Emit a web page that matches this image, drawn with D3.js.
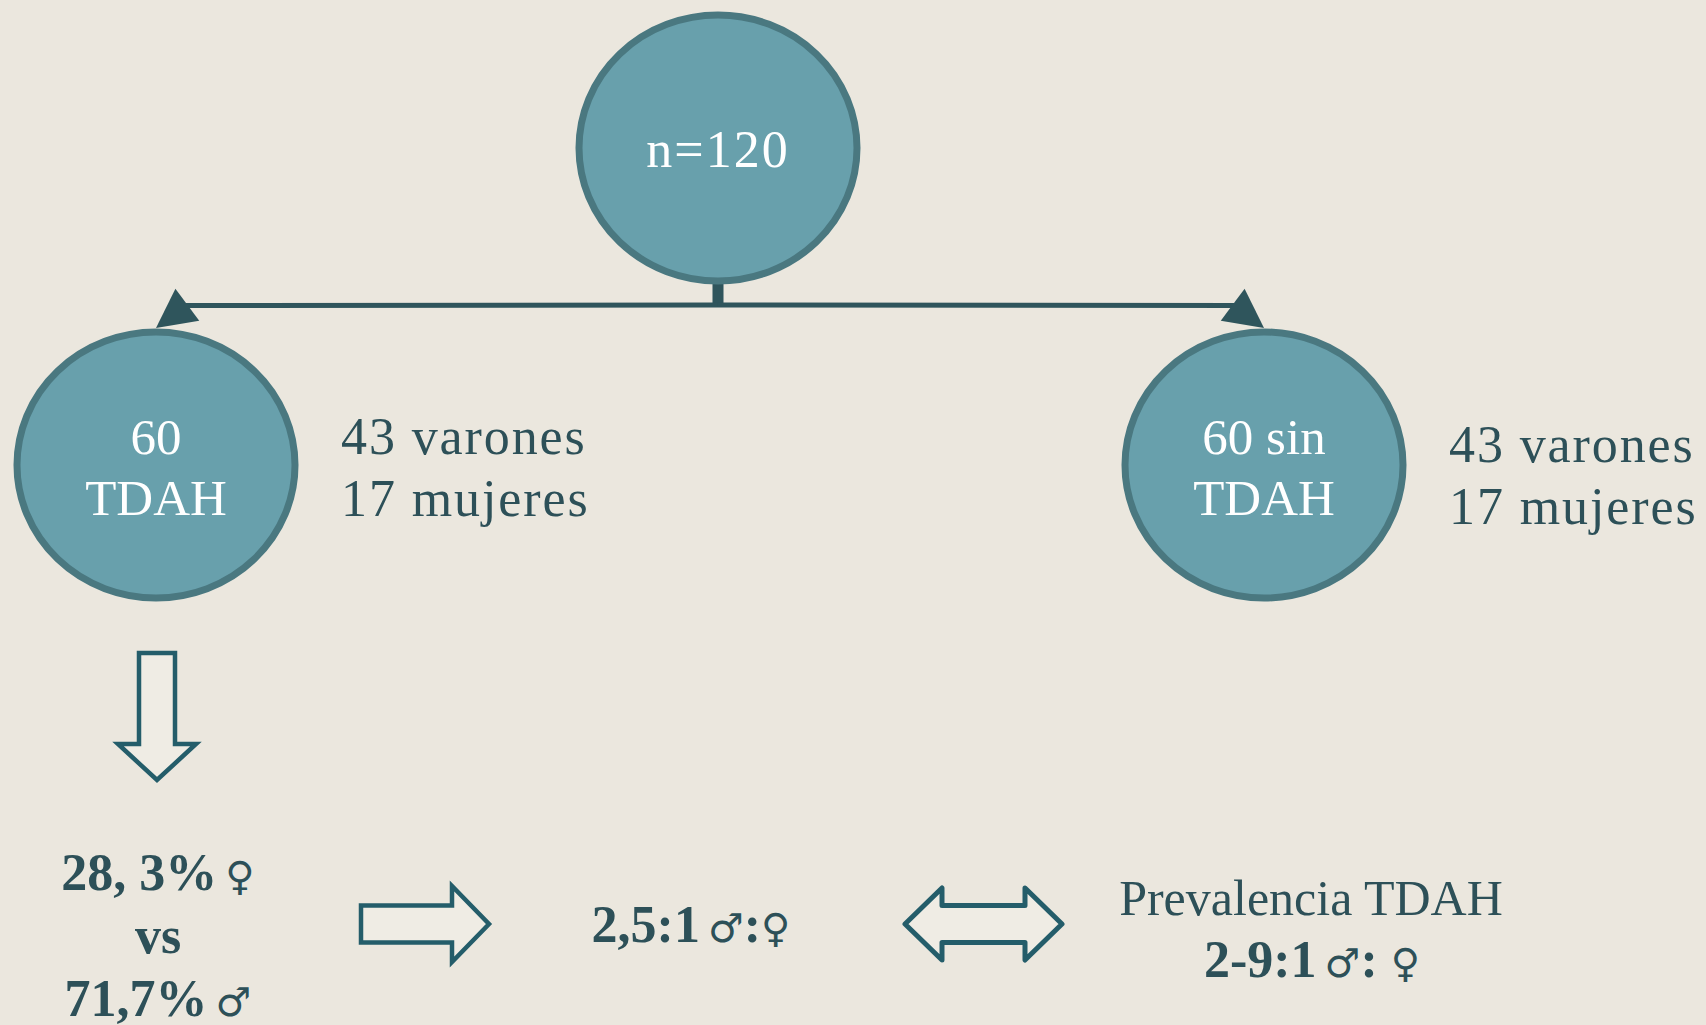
<!DOCTYPE html>
<html>
<head>
<meta charset="utf-8">
<style>
  html, body { margin: 0; padding: 0; background: #ebe7de; }
  svg { display: block; }
</style>
</head>
<body>
<svg id="container" width="1706" height="1025"></svg>
<script src="https://cdn.jsdelivr.net/npm/d3@7"></script>
<script>
// data
const total = 120
const groupNames = ["60\nTDAH", "60 sin\nTDAH"]
const varones = [43, 43]
const mujeres = [17, 17]
const pctLines = [["28, 3%", "♀"], ["vs", ""], ["71,7%", "♂"]]
const ratioParts = ["2,5:1", "♂", ":", "♀"]
const prevTitle = "Prevalencia TDAH"
const prevParts = ["2-9:1", "♂", ": ", "♀"]

const W = 1706, H = 1025
const svg = d3.select("#container")
svg.append("rect").attr("width", W).attr("height", H).attr("fill", "#ebe7de")

const serif = "'Liberation Serif', 'DejaVu Serif', serif"
const textDark = "#2d5058"
const circleFill = "#68a0ac", circleStroke = "#4a7880"
const lineCol = "#2f555c"
const arrowCol = "#245d6a", arrowFill = "#efece4"

// node layout (top node + two children)
const topNode = {cx: 718, cy: 148, rx: 139, ry: 133}
const kids = [{cx: 156, cy: 465, rx: 139, ry: 133}, {cx: 1264, cy: 465, rx: 139, ry: 133}]
const lineY = 305

// connector: stem + horizontal line + arrowheads
svg.append("rect")
  .attr("x", topNode.cx - 5.5).attr("y", topNode.cy + topNode.ry - 2)
  .attr("width", 11).attr("height", lineY - (topNode.cy + topNode.ry) + 4)
  .attr("fill", lineCol)

function head(tip, from, len, wid) {
  let dx = tip[0] - from[0], dy = tip[1] - from[1]
  let L = Math.hypot(dx, dy)
  let ux = dx / L, uy = dy / L
  let bx = tip[0] - ux * len, by = tip[1] - uy * len
  let nx = -uy, ny = ux
  return [tip, [bx + nx * wid / 2, by + ny * wid / 2], [bx - nx * wid / 2, by - ny * wid / 2]]
}

kids.forEach((k, i) => {
  let s = i === 0 ? 1 : -1
  let tip = [k.cx, k.cy - k.ry - 4]
  let from = [k.cx + s * 31, lineY]
  svg.append("line")
    .attr("x1", topNode.cx).attr("y1", lineY)
    .attr("x2", from[0] - s * 2).attr("y2", lineY + 0.5)
    .attr("stroke", lineCol).attr("stroke-width", 5)
  svg.append("path")
    .attr("d", d3.line()(head(tip, from, 39, 40)) + "Z")
    .attr("fill", lineCol)
})

// circles
const circles = [topNode].concat(kids)
svg.selectAll("ellipse.node")
  .data(circles)
  .enter().append("ellipse")
  .attr("class", "node")
  .attr("cx", d => d.cx).attr("cy", d => d.cy)
  .attr("rx", d => d.rx).attr("ry", d => d.ry)
  .attr("fill", circleFill)
  .attr("stroke", circleStroke)
  .attr("stroke-width", 7)

// circle labels
svg.append("text")
  .attr("x", topNode.cx).attr("y", 167)
  .attr("text-anchor", "middle")
  .attr("font-family", serif).attr("font-size", 52)
  .attr("letter-spacing", 2)
  .attr("fill", "#ffffff")
  .text("n=" + total)

kids.forEach((k, i) => {
  let lines = groupNames[i].split("\n")
  lines.forEach((ln, j) => {
    svg.append("text")
      .attr("x", k.cx).attr("y", 454 + j * 61)
      .attr("text-anchor", "middle")
      .attr("font-family", serif).attr("font-size", 51)
      .attr("fill", "#ffffff")
      .text(ln)
  })
  // side text
  let sx = k.cx + 185, sy = i === 0 ? 454 : 462
  ;[varones[i] + " varones", mujeres[i] + " mujeres"].forEach((t, j) => {
    svg.append("text")
      .attr("x", sx).attr("y", sy + j * 62)
      .attr("font-family", serif).attr("font-size", 52)
      .attr("letter-spacing", 1.9)
      .attr("fill", textDark)
      .text(t)
  })
})

// block arrows
function blockRight(x0, x1, yc, sh, hh, hl) {
  let p = d3.path()
  p.moveTo(x0, yc - sh); p.lineTo(x1 - hl, yc - sh); p.lineTo(x1 - hl, yc - hh)
  p.lineTo(x1, yc); p.lineTo(x1 - hl, yc + hh); p.lineTo(x1 - hl, yc + sh)
  p.lineTo(x0, yc + sh); p.closePath()
  return p.toString()
}
function blockDown(xc, y0, y1, sh, hh, hl) {
  let p = d3.path()
  p.moveTo(xc - sh, y0); p.lineTo(xc + sh, y0); p.lineTo(xc + sh, y1 - hl)
  p.lineTo(xc + hh, y1 - hl); p.lineTo(xc, y1); p.lineTo(xc - hh, y1 - hl)
  p.lineTo(xc - sh, y1 - hl); p.closePath()
  return p.toString()
}
function blockBoth(x0, x1, yc, sh, hh, hl) {
  let p = d3.path()
  p.moveTo(x0, yc); p.lineTo(x0 + hl, yc - hh); p.lineTo(x0 + hl, yc - sh)
  p.lineTo(x1 - hl, yc - sh); p.lineTo(x1 - hl, yc - hh); p.lineTo(x1, yc)
  p.lineTo(x1 - hl, yc + hh); p.lineTo(x1 - hl, yc + sh); p.lineTo(x0 + hl, yc + sh)
  p.lineTo(x0 + hl, yc + hh); p.closePath()
  return p.toString()
}

svg.append("path").attr("d", blockDown(kids[0].cx + 1, 653, 780, 18, 39, 36))
  .attr("fill", arrowFill).attr("stroke", arrowCol).attr("stroke-width", 4.5)
svg.append("path").attr("d", blockRight(361, 489, 924, 18.5, 38, 37))
  .attr("fill", arrowFill).attr("stroke", arrowCol).attr("stroke-width", 4.5)
svg.append("path").attr("d", blockBoth(905, 1062, 924, 18.5, 36, 37))
  .attr("fill", arrowFill).attr("stroke", arrowCol).attr("stroke-width", 5)
  .attr("stroke-linejoin", "round")

// bold texts with gender symbols
function richText(x, y, parts, opts) {
  let t = svg.append("text")
    .attr("x", x).attr("y", y)
    .attr("text-anchor", opts.anchor || "middle")
    .attr("fill", textDark)
  parts.forEach((p, i) => {
    if (p === "") return
    let sym = p === "♀" || p === "♂"
    t.append("tspan")
      .attr("dx", sym && i === 1 ? 8 : 0)
      .attr("font-family", sym ? "'DejaVu Sans', sans-serif" : serif)
      .attr("font-weight", opts.bold ? "bold" : "normal")
      .attr("font-size", sym ? 40 : opts.size)
      .text(p)
  })
  return t
}

pctLines.forEach((ln, j) => {
  richText(158, 890 + j * 63, ln, {bold: true, size: 52})
})
richText(691, 942, ratioParts, {bold: true, size: 52})
richText(1311, 915, [prevTitle], {bold: false, size: 50})
richText(1312, 977, prevParts, {bold: true, size: 52})
</script>
</body>
</html>
